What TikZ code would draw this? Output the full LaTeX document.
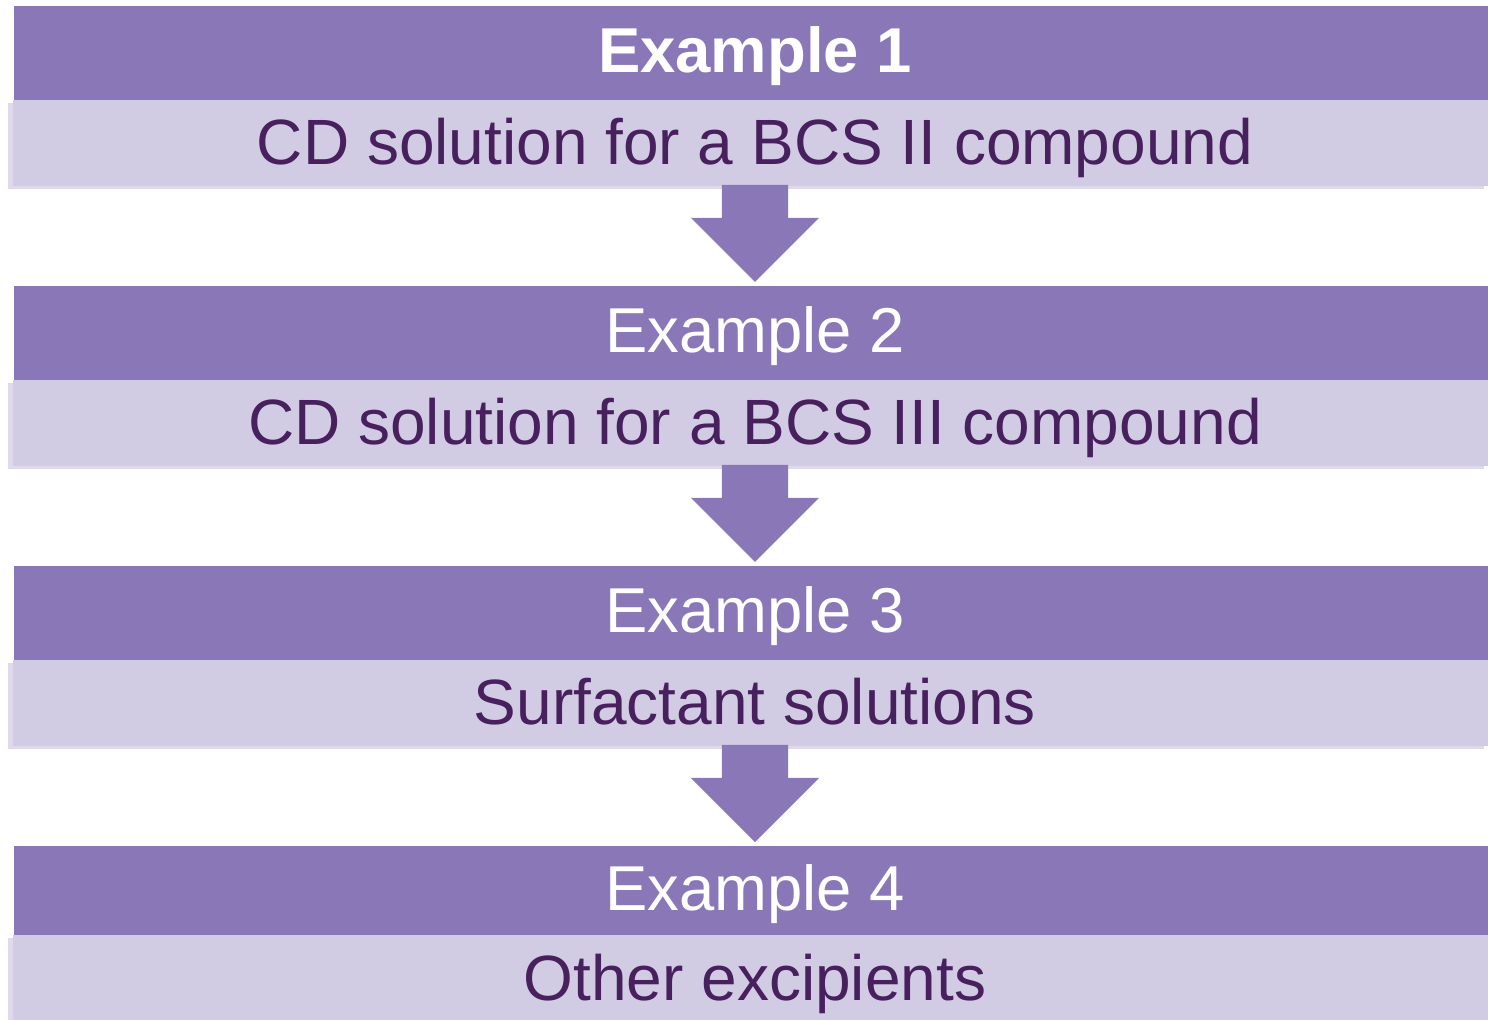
\documentclass[tikz,border=0pt]{standalone}
\usepackage{fontspec}
\setmainfont{Liberation Sans}
\usepackage{xcolor}
\usepackage{tikz}
\usetikzlibrary{positioning,calc,shadows}

\definecolor{headfill}{HTML}{8A77B8}
\definecolor{bodyfill}{HTML}{D1CCE3}
\definecolor{bodyedge}{HTML}{DEDAEB}
\definecolor{bodytext}{HTML}{48205E}

\begin{document}
\begin{tikzpicture}[
    headbox/.style={fill=headfill, text=white, inner sep=0pt, outer sep=0pt,
        minimum width=737pt, minimum height=47pt,
        font=\fontsize{31.7}{38}\selectfont, text height=28pt, text depth=8pt,
        execute at begin node=\hspace*{4pt}},
    bodybox/.style={fill=bodyfill, text=bodytext, inner sep=0pt, outer sep=0pt,
        minimum width=738pt, minimum height=43pt,
        font=\fontsize{32}{38}\selectfont, text height=30pt, text depth=8pt,
        execute at begin node=\hspace*{4pt},
        general shadow={fill=bodyedge, shadow xshift=-2.5pt, shadow yshift=-1.5pt}},
    stepfill/.style={fill=headfill}
]
% page frame
\useasboundingbox (-375.5pt,26.5pt) rectangle (368.5pt,-483.5pt);
\clip (-375.5pt,26.5pt) rectangle (368.5pt,-483.5pt);

% Example 1
\node[headbox] (head1) at (0,0) {\bfseries Example 1};
\node[bodybox, below=0pt of head1] (body1) {CD solution for a BCS II compound};

% Example 2
\node[headbox, below=50pt of body1] (head2) {Example 2};
\node[bodybox, below=0pt of head2] (body2) {CD solution for a BCS III compound};

% Example 3
\node[headbox, below=50pt of body2] (head3) {Example 3};
\node[bodybox, below=0pt of head3] (body3) {Surfactant solutions};

% Example 4 (last bar a bit shorter)
\node[headbox, minimum height=44.5pt, below=50pt of body3] (head4) {Example 4};
\node[bodybox, below=0pt of head4] (body4) {Other excipients};

% block arrows between the steps
\foreach \i/\j in {1/2,2/3,3/4}
    \fill[stepfill] ($(body\i.south)+(-14.5pt,0.5pt)$) -- ($(head\j.north)+(-14.5pt,34pt)$)
        -- ($(head\j.north)+(-30pt,34pt)$) -- ($(head\j.north)+(2pt,2pt)$)
        -- ($(head\j.north)+(34pt,34pt)$) -- ($(head\j.north)+(18.5pt,34pt)$)
        -- ($(body\i.south)+(18.5pt,0.5pt)$) -- cycle;

\end{tikzpicture}
\end{document}
